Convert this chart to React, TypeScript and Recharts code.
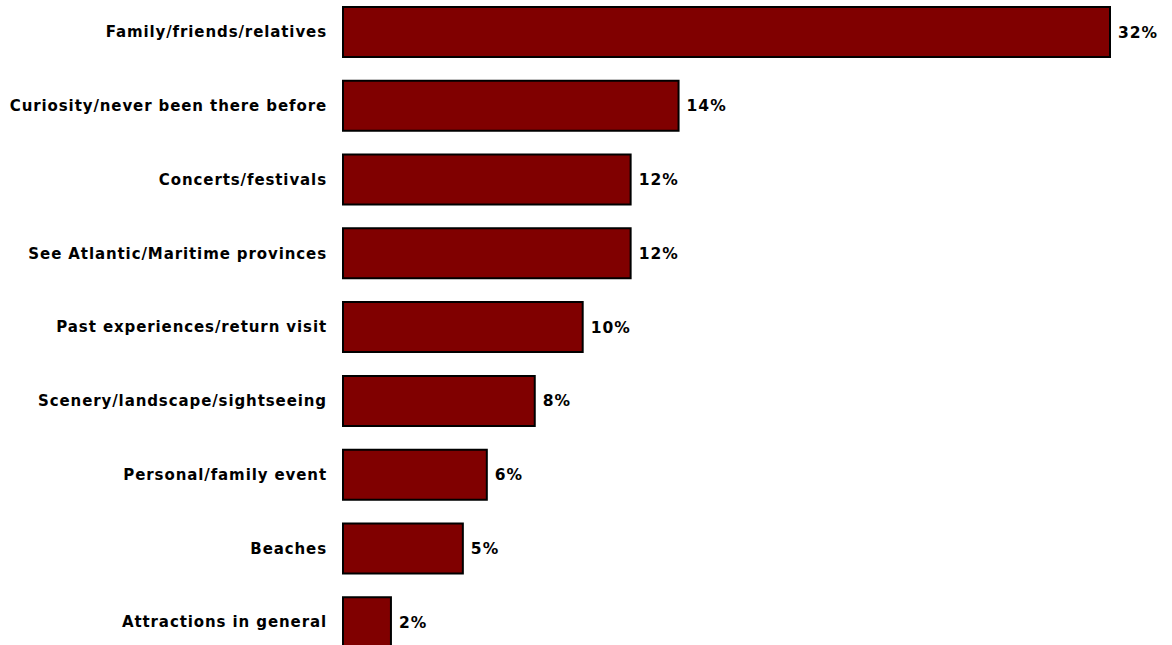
import React from "react";
import { BarChart, Bar, XAxis, YAxis, LabelList } from "recharts";

const categories = [
  "Family/friends/relatives",
  "Curiosity/never been there before",
  "Concerts/festivals",
  "See Atlantic/Maritime provinces",
  "Past experiences/return visit",
  "Scenery/landscape/sightseeing",
  "Personal/family event",
  "Beaches",
  "Attractions in general",
];
const values = [32, 14, 12, 12, 10, 8, 6, 5, 2];

const data = categories.map((name, i) => ({ name, value: values[i] }));

const FONT = "'DejaVu Sans', Verdana, sans-serif";

export default function App() {
  return (
    <div style={{ position: "absolute", left: 0, top: -5, width: 1172, height: 664 }}>
      <BarChart
        width={1172}
        height={664}
        data={data}
        layout="vertical"
        margin={{ top: 0, right: 62, bottom: 0, left: 0 }}
        barCategoryGap={12}
      >
        <XAxis type="number" domain={[0, 32]} hide />
        <YAxis
          type="category"
          dataKey="name"
          width={343}
          axisLine={false}
          tickLine={false}
          tickMargin={10}
          interval={0}
          tick={{ fill: "#000", fontSize: 15, fontWeight: "bold", fontFamily: FONT, letterSpacing: 0.9 }}
        />
        <Bar dataKey="value" fill="#800000" stroke="#000" strokeWidth={2} isAnimationActive={false}>
          <LabelList
            dataKey="value"
            position="right"
            offset={8}
            formatter={(v: number) => `${v}%`}
            style={{ fill: "#000", fontSize: 15.5, fontWeight: "bold", fontFamily: FONT, letterSpacing: 1 }}
          />
        </Bar>
      </BarChart>
    </div>
  );
}
